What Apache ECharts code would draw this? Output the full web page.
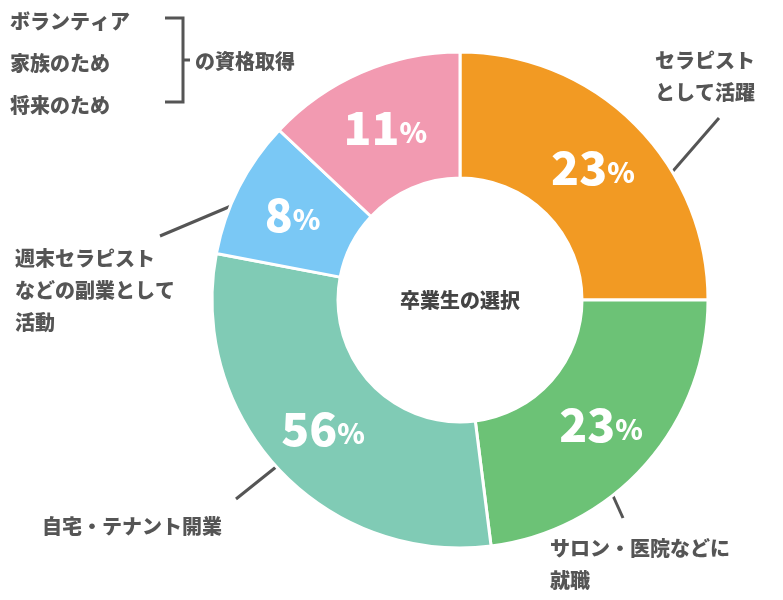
<!DOCTYPE html>
<html>
<head>
<meta charset="utf-8">
<script src="https://cdn.jsdelivr.net/npm/echarts@6/dist/echarts.min.js"></script>
<style>html,body{margin:0;background:#fff}#chart{width:783px;height:600px}</style>
</head>
<body>
<div id="chart"></div>
<script>
// 扇形の角度と表示ラベル
var names = ['セラピストとして活躍', 'サロン・医院などに就職', '自宅・テナント開業', '週末セラピストなどの副業として活動', 'の資格取得'];
var sliceValues = [25, 23, 30, 9, 13];
var labelPercents = [23, 23, 56, 8, 11];
var colors = ['#F29A23', '#6CC276', '#80CBB5', '#7AC8F5', '#F29AB1'];
var bracketItems = ['ボランティア', '家族のため', '将来のため'];

var font = '"Noto Sans CJK JP", "Noto Sans", sans-serif';
var grey = '#555';
var lineStyle = {stroke: grey, lineWidth: 3};

var chart = echarts.init(document.getElementById('chart'));

function txt(x, y, text, lh) {
	return {
		type: 'text', x: x, y: y,
		style: {text: text, font: '900 20px ' + font, fill: grey, lineHeight: lh || 32}
	};
}
function line(points) {
	return {type: 'polyline', shape: {points: points}, style: lineStyle};
}

var graphics = [
	txt(655, 44, 'セラピスト\nとして活躍'),
	line([[660, 186], [719, 118]]),
	txt(550, 532, 'サロン・医院などに\n就職'),
	line([[600, 467], [623, 518]]),
	txt(42, 510, '自宅・テナント開業'),
	line([[291, 455], [236, 499]]),
	txt(15, 242, '週末セラピスト\nなどの副業として\n活動'),
	line([[250, 198], [160, 236]]),
	txt(195, 45, 'の資格取得'),
	line([[362, 111], [340, 89]]),
	txt(10, 0, bracketItems.join('\n'), 42),
	line([[165, 18], [183, 18], [183, 102], [165, 102]]),
	line([[183, 60], [190, 60]]),
	{
		type: 'text', x: 460, y: 300,
		style: {text: '卒業生の選択', font: '900 20px ' + font, fill: '#444', align: 'center', verticalAlign: 'middle'}
	}
];

chart.setOption({
	animation: false,
	graphic: graphics,
	series: [{
		type: 'pie',
		center: [460, 300],
		radius: [122, 248],
		startAngle: 90,
		clockwise: true,
		itemStyle: {borderColor: '#fff', borderWidth: 3},
		label: {
			position: 'inside',
			formatter: function(p) {
				return '{n|' + labelPercents[p.dataIndex] + '}{p|%}';
			},
			rich: {
				n: {fontFamily: font, fontWeight: 900, fontSize: 46, color: '#fff'},
				p: {fontFamily: font, fontWeight: 900, fontSize: 28, color: '#fff', padding: [10, 0, 0, 0]}
			}
		},
		labelLine: {show: false},
		data: sliceValues.map(function(v, i) {
			return {name: names[i], value: v, itemStyle: {color: colors[i]}};
		})
	}]
});
</script>
</body>
</html>
